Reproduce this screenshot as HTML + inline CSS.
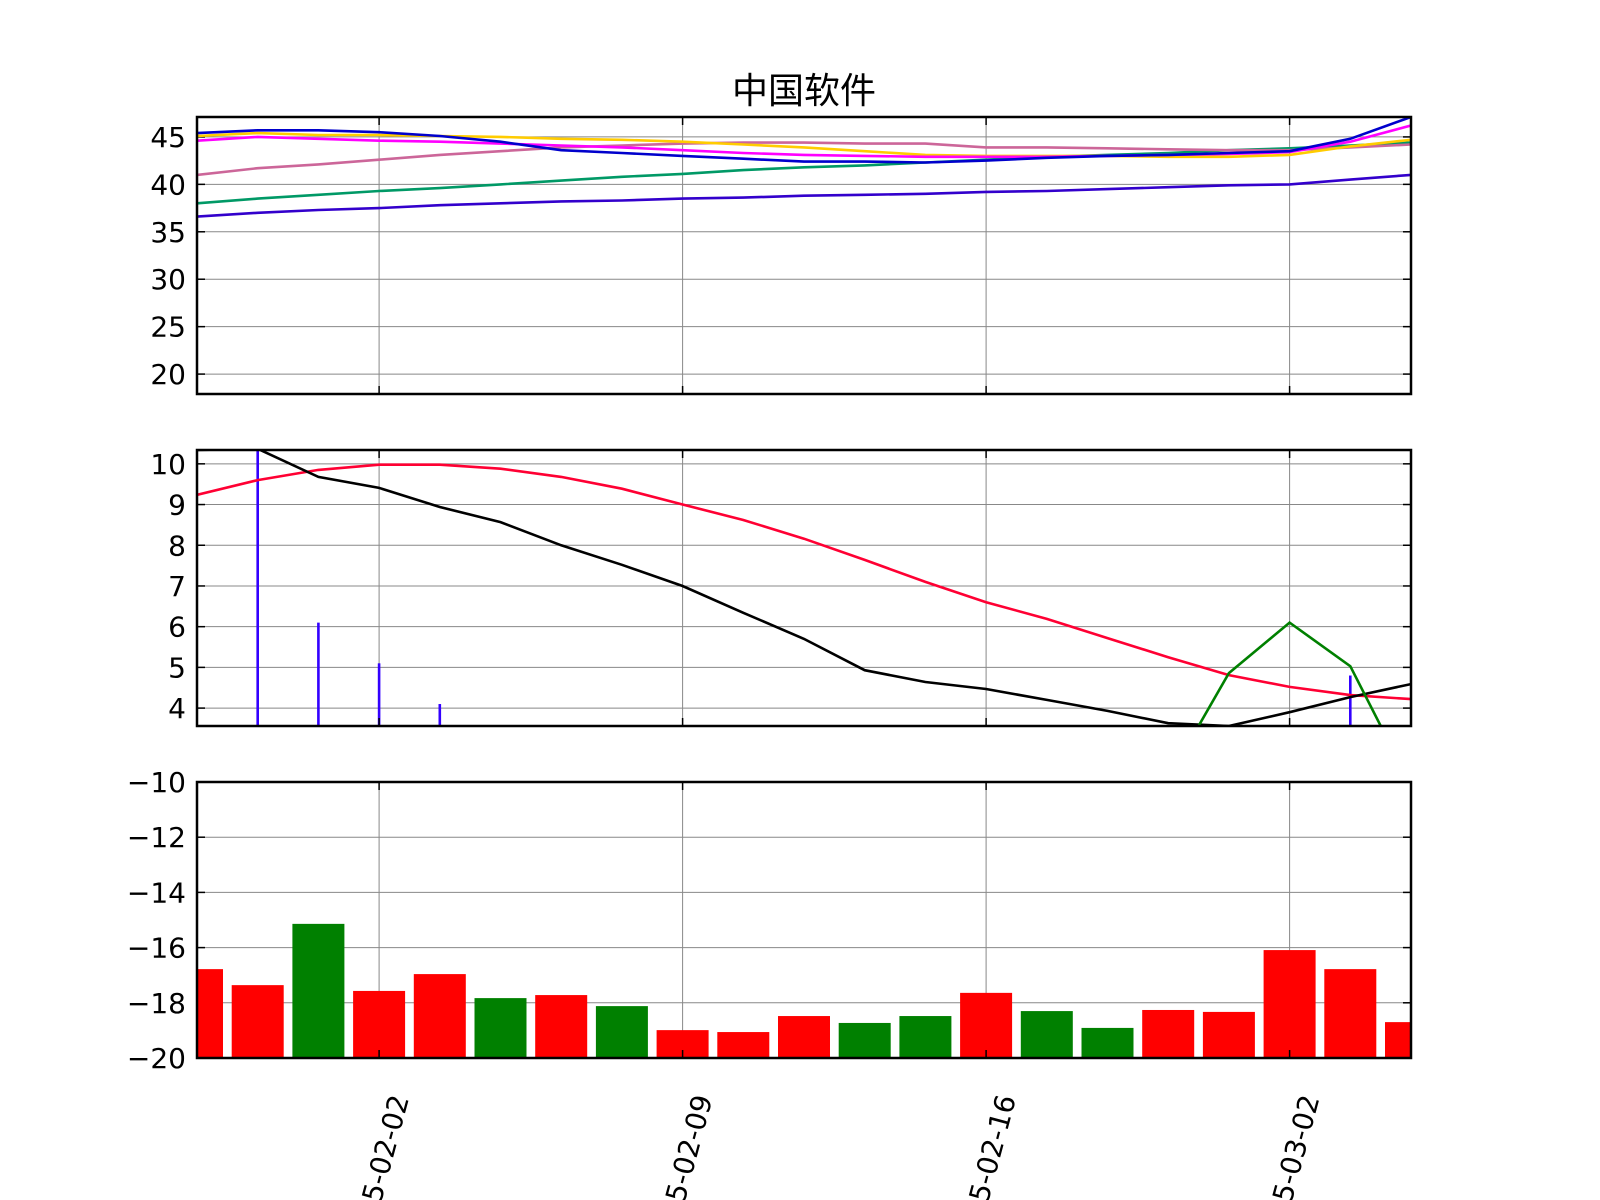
<!DOCTYPE html>
<html><head><meta charset="utf-8"><style>
html,body{margin:0;padding:0;background:#fff;width:1600px;height:1200px;overflow:hidden;}
svg{display:block;overflow:hidden;font-family:"DejaVu Sans","Liberation Sans","Noto Sans CJK SC",sans-serif;}
</style></head><body>
<svg id="chart" width="1600" height="1200" viewBox="0 0 1600 1200" xmlns="http://www.w3.org/2000/svg">
<rect width="1600" height="1200" fill="#fff"/>
<text x="804" y="103" font-size="36" text-anchor="middle" font-family="'Liberation Sans','Noto Sans CJK SC',sans-serif">中国软件</text>
</svg>
<script>
const xTickIdx = [3, 8, 13, 18];
const xTickLabels = ["2015-02-02", "2015-02-09", "2015-02-16", "2015-03-02"];
const maBlue = [45.4,45.7,45.7,45.5,45.1,44.5,43.6,43.3,43.0,42.7,42.4,42.4,42.3,42.5,42.8,43.0,43.1,43.3,43.5,44.8,47.1];
const maYellow = [45.1,45.4,45.2,45.2,45.1,45.0,44.8,44.7,44.5,44.2,43.9,43.5,43.1,43.0,43.0,43.0,42.9,42.9,43.1,44.0,44.7];
const maMagenta = [44.6,45.0,44.8,44.6,44.5,44.3,44.1,43.9,43.6,43.3,43.1,43.0,42.9,42.9,42.9,43.0,43.1,43.2,43.4,44.5,46.2];
const maPink = [41.0,41.7,42.1,42.6,43.1,43.5,43.9,44.1,44.3,44.4,44.4,44.3,44.3,43.9,43.9,43.8,43.7,43.6,43.6,43.9,44.2];
const maGreen = [38.0,38.5,38.9,39.3,39.6,40.0,40.4,40.8,41.1,41.5,41.8,42.0,42.3,42.6,42.9,43.1,43.3,43.6,43.8,44.1,44.4];
const maPurple = [36.6,37.0,37.3,37.5,37.8,38.0,38.2,38.3,38.5,38.6,38.8,38.9,39.0,39.2,39.3,39.5,39.7,39.9,40.0,40.5,41.0];
const p1Ticks = [20,25,30,35,40,45];
const redLine = [9.24,9.6,9.85,9.98,9.98,9.88,9.68,9.39,9.0,8.62,8.16,7.64,7.1,6.6,6.19,5.72,5.25,4.81,4.52,4.32,4.22];
const blackLine = [10.34,10.37,9.68,9.41,8.94,8.57,8.0,7.52,7.0,6.34,5.7,4.93,4.64,4.47,4.2,3.93,3.63,3.56,3.9,4.27,4.59];
const greenLine = [null,null,null,null,null,null,null,null,null,null,null,null,null,null,null,null,2.26,4.86,6.1,5.03,2.1];
const stems = [0,10.4,6.1,5.1,4.1,0,0,0,0,0,0,0,0,0,0,0,0,0,0,4.8,0];
const p2Ticks = [4,5,6,7,8,9,10];
const barValues = [-16.78,-17.36,-15.14,-17.57,-16.96,-17.83,-17.72,-18.12,-18.99,-19.06,-18.48,-18.73,-18.48,-17.64,-18.3,-18.91,-18.26,-18.33,-16.09,-16.78,-18.7];
const barUp = [1,1,0,1,1,0,1,0,1,1,1,0,0,1,0,0,1,1,1,1,1];
const p3Ticks = [-20,-18,-16,-14,-12,-10];

const svg = document.getElementById('chart');
const NS = 'http://www.w3.org/2000/svg';
const X0 = 197, X1 = 1411, N = 21;
function xs(i){ return X0 + (X1 - X0) * i / (N - 1); }
function mk(tag, attrs, parent){
  const e = document.createElementNS(NS, tag);
  for (const k in attrs) e.setAttribute(k, attrs[k]);
  (parent || svg).appendChild(e);
  return e;
}
const panels = [
  {top:117, bot:394, min:17.9, max:47.1, ticks:p1Ticks, name:'price-panel'},
  {top:450, bot:726, min:3.56, max:10.34, ticks:p2Ticks, name:'indicator-panel'},
  {top:782, bot:1058, min:-20, max:-10, ticks:p3Ticks, name:'volume-panel'}
];
function ys(p, v){ return p.bot - (v - p.min) / (p.max - p.min) * (p.bot - p.top); }

panels.forEach((p, pi) => {
  const g = mk('g', {});
  
  
  const clipId = 'clip' + pi;
  const cp = mk('clipPath', {id: clipId}, g);
  mk('rect', {x:X0, y:p.top, width:X1-X0, height:p.bot-p.top}, cp);
  p.g = g; p.clip = 'url(#' + clipId + ')';
  xTickIdx.forEach(i => {
    const l = mk('line', {x1:xs(i), x2:xs(i), y1:p.top, y2:p.bot, stroke:'#888', 'stroke-width':1}, g);
    
    
  });
  p.ticks.forEach(t => {
    const y = ys(p, t);
    const l = mk('line', {x1:X0, x2:X1, y1:y, y2:y, stroke:'#888', 'stroke-width':1}, g);
    
    
    const tx = mk('text', {x:186, y:y+10, 'font-size':28, 'text-anchor':'end'}, g);
    
    
    tx.textContent = String(t).replace('-', '\u2212');
    mk('line', {x1:X0, x2:X0+8, y1:y, y2:y, stroke:'#000', 'stroke-width':1.5}, g);
    mk('line', {x1:X1-8, x2:X1, y1:y, y2:y, stroke:'#000', 'stroke-width':1.5}, g);
  });
});

function drawLine(p, data, color, name){
  let d = '';
  data.forEach((v, i) => {
    if (v === null) return;
    d += (d === '' ? 'M' : 'L') + xs(i).toFixed(1) + ',' + ys(p, v).toFixed(1);
  });
  const e = mk('path', {d:d, fill:'none', stroke:color, 'stroke-width':2.6, 'clip-path':p.clip}, p.g);
  
  
}
const P1 = panels[0], P2 = panels[1], P3 = panels[2];
drawLine(P1, maPurple, '#3300cc', 'ma-purple-line');
drawLine(P1, maGreen, '#009966', 'ma-green-line');
drawLine(P1, maPink, '#cc6699', 'ma-pink-line');
drawLine(P1, maYellow, '#ffcc00', 'ma-yellow-line');
drawLine(P1, maMagenta, '#ff00ff', 'ma-magenta-line');
drawLine(P1, maBlue, '#0000cc', 'ma-blue-line');

stems.forEach((v, i) => {
  if (v <= P2.min) return;
  const e = mk('line', {x1:xs(i), x2:xs(i), y1:P2.bot, y2:ys(P2, v), stroke:'#3300ff', 'stroke-width':2.6, 'clip-path':P2.clip}, P2.g);
  
  
});
drawLine(P2, redLine, '#ff0033', 'red-line');
drawLine(P2, blackLine, '#000000', 'black-line');
drawLine(P2, greenLine, '#008000', 'green-line');

barValues.forEach((v, i) => {
  const y = ys(P3, v), w = 52;
  const e = mk('rect', {x:xs(i)-w/2, y:y, width:w, height:P3.bot-y, fill: barUp[i] ? '#ff0000' : '#008000', 'clip-path':P3.clip}, P3.g);
  
  
});

panels.forEach(p => {
  xTickIdx.forEach(i => {
    mk('line', {x1:xs(i), x2:xs(i), y1:p.top, y2:p.top+8, stroke:'#000', 'stroke-width':1.5}, p.g);
    mk('line', {x1:xs(i), x2:xs(i), y1:p.bot-8, y2:p.bot, stroke:'#000', 'stroke-width':1.5}, p.g);
  });
  const f = mk('rect', {x:X0, y:p.top, width:X1-X0, height:p.bot-p.top, fill:'none', stroke:'#000', 'stroke-width':2.5}, p.g);
  
  
});

xTickIdx.forEach((idx, k) => {
  const x = xs(idx) + 30, y = 1098;
  const t = mk('text', {x:x, y:y, 'font-size':28, 'text-anchor':'end', transform:'rotate(-75 ' + x + ' ' + y + ')'});
  
  
  t.textContent = xTickLabels[k];
});
</script>
</body></html>
